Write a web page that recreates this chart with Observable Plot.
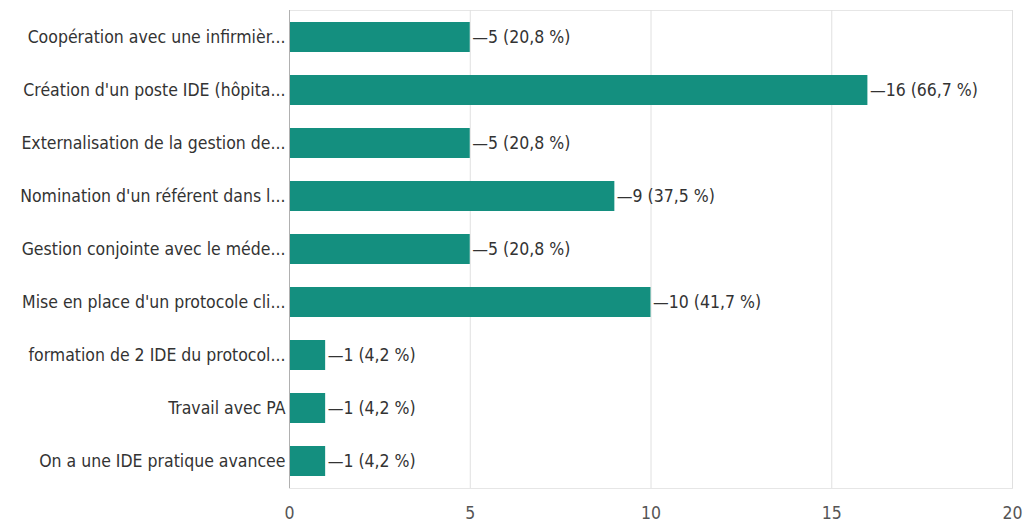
<!DOCTYPE html>
<html>
<head>
<meta charset="utf-8">
<script src="https://cdn.jsdelivr.net/npm/d3@7"></script>
<script src="https://cdn.jsdelivr.net/npm/@observablehq/plot@0.6"></script>
<style>
  html, body { margin: 0; padding: 0; background: #fff; }
  #chart svg { display: block; }
</style>
</head>
<body>
<div id="chart"></div>
<script>
const categories = [
  "Coopération avec une infirmièr...",
  "Création d'un poste IDE (hôpita...",
  "Externalisation de la gestion de...",
  "Nomination d'un référent dans l...",
  "Gestion conjointe avec le méde...",
  "Mise en place d'un protocole cli...",
  "formation de 2 IDE du protocol...",
  "Travail avec PA",
  "On a une IDE pratique avancee"
];
const counts = [5, 16, 5, 9, 5, 10, 1, 1, 1];
const percentLabels = ["20,8 %", "66,7 %", "20,8 %", "37,5 %", "20,8 %", "41,7 %", "4,2 %", "4,2 %", "4,2 %"];
const xTicks = [0, 5, 10, 15, 20];

const data = categories.map((c, i) => ({
  category: c,
  count: counts[i],
  label: "\u2014" + counts[i] + " (" + percentLabels[i] + ")"
}));

const font = "'DejaVu Sans Condensed', 'Liberation Sans Narrow', sans-serif";

const chart = Plot.plot({
  width: 1023,
  height: 529,
  marginLeft: 289,
  marginRight: 11,
  marginTop: 10,
  marginBottom: 41,
  style: { fontFamily: font, fontSize: "17.5px", color: "#444", background: "#fff" },
  x: { domain: [0, 20], ticks: xTicks, label: null, grid: false },
  y: { domain: categories, label: null, paddingInner: 0.43, paddingOuter: 0.215 },
  marks: [
    Plot.frame({ stroke: "#e6e6e6" }),
    Plot.gridX(xTicks, { stroke: "#e0e0e0", strokeOpacity: 1 }),
    Plot.barX(data, { x: "count", y: "category", fill: "#148f7f" }),
    Plot.ruleX([0], { stroke: "#b0b0b0" }),
    Plot.text(data, {
      x: "count", y: "category", text: "label",
      textAnchor: "start", dx: 2, fill: "#333", fontSize: 17.5
    }),
    Plot.axisX(xTicks, { tickSize: 0, tickPadding: 18, fontSize: 17.5, fill: "#555" }),
    Plot.axisY({ tickSize: 0, tickPadding: 4, fontSize: 17.5, fill: "#333" })
  ]
});
document.getElementById("chart").appendChild(chart);
</script>
</body>
</html>
